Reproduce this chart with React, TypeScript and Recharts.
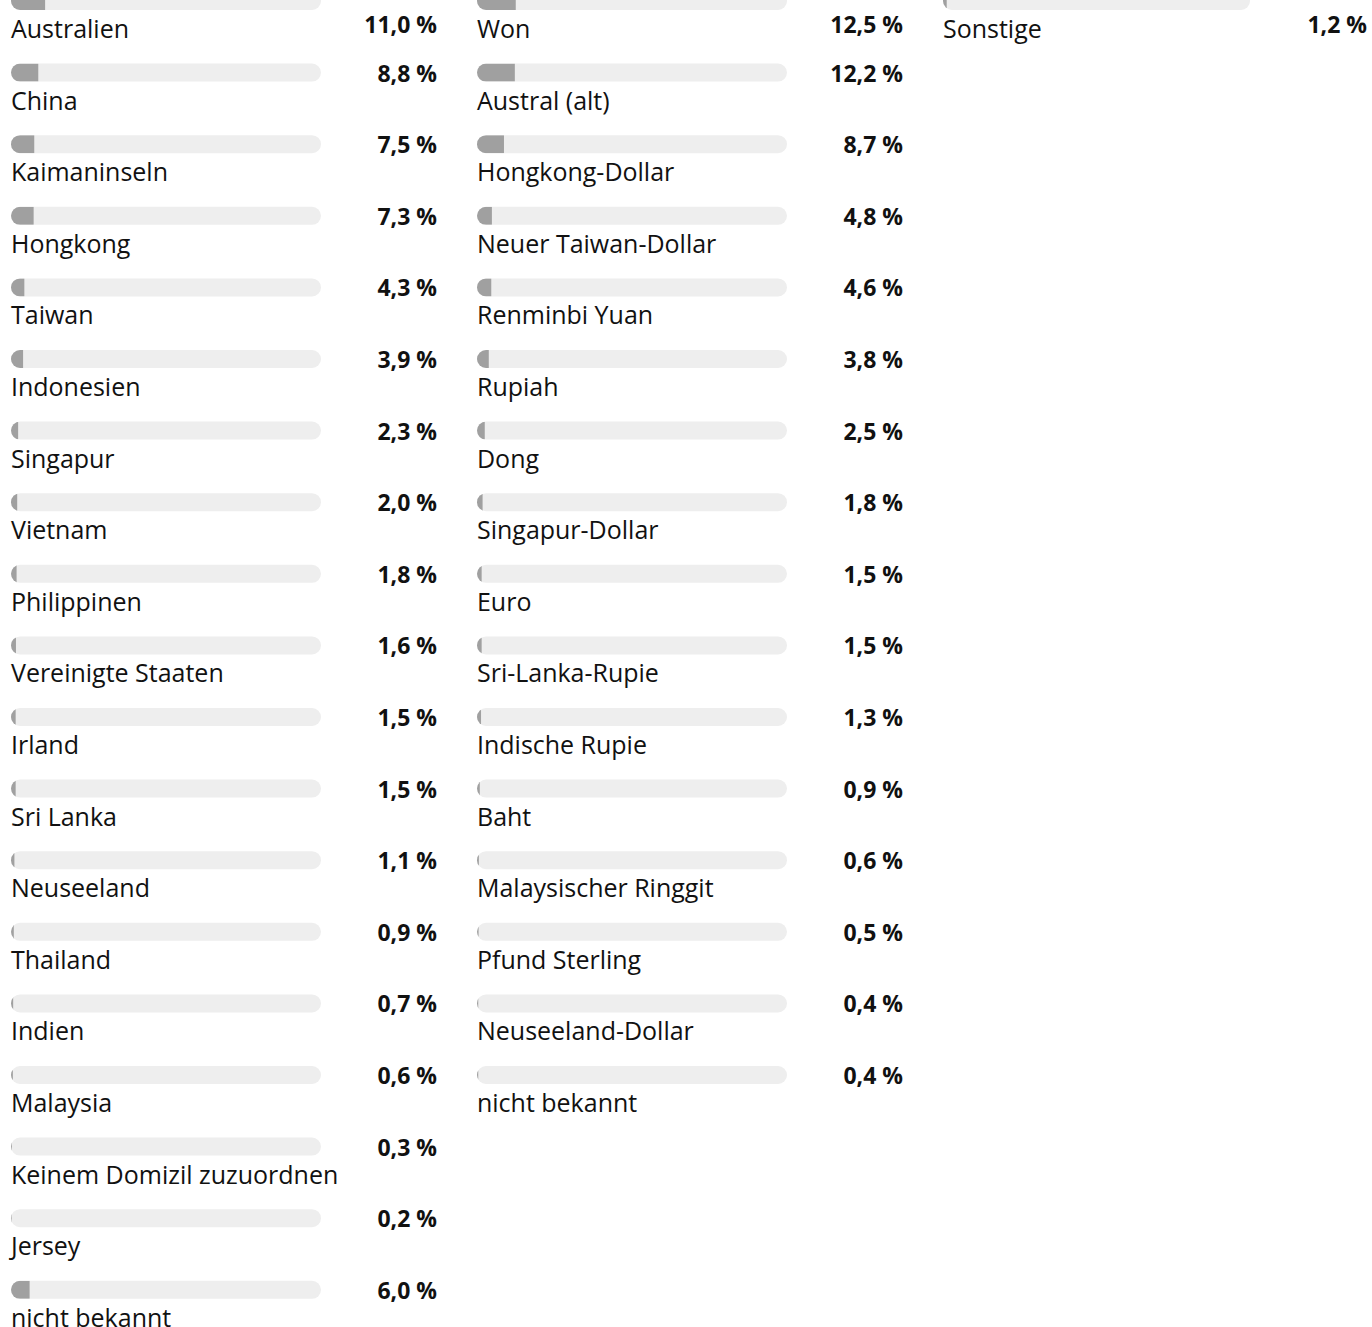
import { BarChart, Bar, XAxis, YAxis, LabelList } from 'recharts';

const domicileNames = [
  'Australien', 'China', 'Kaimaninseln', 'Hongkong', 'Taiwan', 'Indonesien',
  'Singapur', 'Vietnam', 'Philippinen', 'Vereinigte Staaten', 'Irland',
  'Sri Lanka', 'Neuseeland', 'Thailand', 'Indien', 'Malaysia',
  'Keinem Domizil zuzuordnen', 'Jersey', 'nicht bekannt',
];
const domicileValues = [
  11.0, 8.8, 7.5, 7.3, 4.3, 3.9, 2.3, 2.0, 1.8, 1.6, 1.5, 1.5, 1.1, 0.9, 0.7,
  0.6, 0.3, 0.2, 6.0,
];

const currencyNames = [
  'Won', 'Austral (alt)', 'Hongkong-Dollar', 'Neuer Taiwan-Dollar',
  'Renminbi Yuan', 'Rupiah', 'Dong', 'Singapur-Dollar', 'Euro',
  'Sri-Lanka-Rupie', 'Indische Rupie', 'Baht', 'Malaysischer Ringgit',
  'Pfund Sterling', 'Neuseeland-Dollar', 'nicht bekannt',
];
const currencyValues = [
  12.5, 12.2, 8.7, 4.8, 4.6, 3.8, 2.5, 1.8, 1.5, 1.5, 1.3, 0.9, 0.6, 0.5, 0.4, 0.4,
];

const otherNames = ['Sonstige'];
const otherValues = [1.2];

const ROW = 71.6;
const TOP = -35.4;
const EXTRA = 50; // room below the last row for its label
const FONT = '"Open Sans", sans-serif';
const TRACK = '#eeeeee';
const FILL = '#a0a0a0';

const fmt = (v: number) => `${v.toFixed(1).replace('.', ',')}\u00a0%`;

interface ColProps {
  names: string[];
  values: number[];
  left: number;
  width: number;
  trackWidth: number;
  valueX: number;
  id: string;
}

function Column({ names, values, left, width, trackWidth, valueX, id }: ColProps) {
  const data = names.map((name, i) => ({ name, value: values[i] }));
  const height = names.length * ROW + EXTRA;

  const FillShape = (p: any) => {
    const clipId = `clip-${id}-${p.index}`;
    const bw = p.background?.width ?? trackWidth;
    const bx = p.background?.x ?? p.x;
    return (
      <g>
        <defs>
          <clipPath id={clipId}>
            <rect x={bx} y={p.y} width={bw} height={p.height} rx={9} ry={9} />
          </clipPath>
        </defs>
        <rect x={p.x} y={p.y} width={p.width} height={p.height} fill={FILL} clipPath={`url(#${clipId})`} />
      </g>
    );
  };

  const NameLabel = (p: any) => {
    const cy = p.y + p.height / 2;
    return (
      <text x={p.x} y={cy + 27} dominantBaseline="central" fontFamily={FONT} fontSize={25} fill="#111">
        {p.value}
      </text>
    );
  };

  const ValueLabel = (p: any) => {
    const cy = p.y + p.height / 2;
    // label sticks to the visible top edge
    const y = Math.max(cy, -TOP + 24);
    return (
      <text x={valueX} y={y} textAnchor="end" dominantBaseline="central" fontFamily={FONT} fontWeight={700} fontSize={23} fill="#111">
        {fmt(p.value)}
      </text>
    );
  };

  return (
    <div style={{ position: 'absolute', left, top: TOP, width, height }}>
      <BarChart
        width={width}
        height={height}
        data={data}
        layout="vertical"
        margin={{ top: 0, right: width - 11 - trackWidth, bottom: EXTRA, left: 11 }}
      >
        <XAxis type="number" domain={[0, 100]} hide />
        <YAxis type="category" dataKey="name" hide />
        <Bar
          dataKey="value"
          barSize={18}
          background={{ fill: TRACK, radius: 9 } as any}
          shape={FillShape}
          isAnimationActive={false}
        >
          <LabelList dataKey="name" content={NameLabel} />
          <LabelList dataKey="value" content={ValueLabel} />
        </Bar>
      </BarChart>
    </div>
  );
}

export default function App() {
  return (
    <div style={{ position: 'absolute', left: 0, top: 0, width: 1372, height: 1327, overflow: 'hidden', background: '#fff' }}>
      <Column id="dom" names={domicileNames} values={domicileValues} left={0} width={466} trackWidth={310} valueX={437} />
      <Column id="cur" names={currencyNames} values={currencyValues} left={466} width={466} trackWidth={310} valueX={437} />
      <Column id="oth" names={otherNames} values={otherValues} left={932} width={440} trackWidth={307} valueX={435} />
    </div>
  );
}
